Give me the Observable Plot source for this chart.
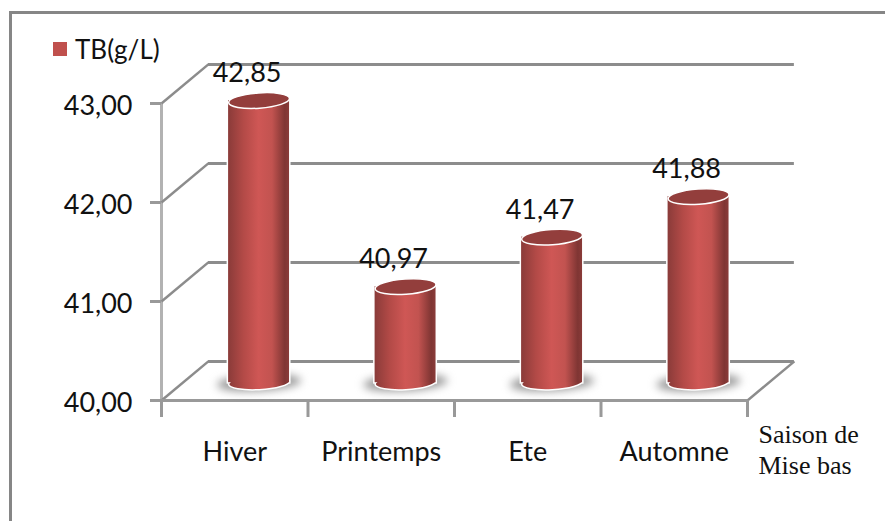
<!DOCTYPE html>
<html><head><meta charset="utf-8">
<style>
html,body{margin:0;padding:0;background:#fff;width:885px;height:521px;overflow:hidden}
#wrap{position:relative;width:885px;height:521px}
#border{position:absolute;left:9px;top:11px;right:0;bottom:0;border-left:3px solid #868686;border-top:3px solid #868686;box-sizing:border-box;pointer-events:none}
#legend{position:absolute;left:53px;top:35px;display:flex;align-items:center;font:26px Lato,sans-serif;color:#111;line-height:28px}
#legend i{display:block;width:14px;height:14px;background:#c0504d;margin-right:8px}
svg{position:absolute;left:0;top:0}
.shadow{filter:blur(4px)}
</style>
<script src="https://cdn.jsdelivr.net/npm/d3@7"></script>
<script src="https://cdn.jsdelivr.net/npm/@observablehq/plot@0.6"></script>
</head><body>
<div id="wrap"><div id="border"></div><div id="legend"><i></i><span>TB(g/L)</span></div></div>
<script>
const categories = ["Hiver","Printemps","Ete","Automne"];
const values = [42.85,40.97,41.47,41.88];
const yTicks = [40,41,42,43];
const xBoundaries = [0,1,2,3,4];
const axisTitle = "Saison de\nMise bas";
const legendLabel = "TB(g/L)";

const fr = v => v.toFixed(2).replace(".",",");
const depthX = 0.32, depthY = 0.395;        // 3D depth of the chart box, in scale units
const midX = 0.166, midY = 0.18, halfBar = 0.208;
const rows = categories.map((c,i)=>({c,v:values[i],pos:i+0.5+midX}));

function ellipse(ratio, tiltDeg){
  const t = tiltDeg*Math.PI/180, k = 0.5523;
  return {draw(ctx,size){
    const a = Math.sqrt(size/Math.PI), b = a*ratio;
    const p = (x,y)=>[x*Math.cos(t)-y*Math.sin(t), x*Math.sin(t)+y*Math.cos(t)];
    ctx.moveTo(...p(a,0));
    ctx.bezierCurveTo(...p(a,k*b),...p(k*a,b),...p(0,b));
    ctx.bezierCurveTo(...p(-k*a,b),...p(-a,k*b),...p(-a,0));
    ctx.bezierCurveTo(...p(-a,-k*b),...p(-k*a,-b),...p(0,-b));
    ctx.bezierCurveTo(...p(k*a,-b),...p(a,-k*b),...p(a,0));
    ctx.closePath();
  }};
}
const sans = "Lato, sans-serif";
const gridC = "#8c8c8c", wallC = "#b2b2b2";

const chart = Plot.plot({
  width:885, height:521,
  marginLeft:161, marginRight:138, marginTop:103, marginBottom:121,
  x:{domain:[0,4], axis:null},
  y:{domain:[40,43], axis:null},
  style:{background:"transparent",overflow:"visible"},
  marks:[
    Plot.ruleX([0],{y1:40,y2:43,stroke:wallC,strokeWidth:3}),
    Plot.ruleY(yTicks,{x1:depthX,x2:4+depthX,y:d=>d+depthY,stroke:gridC,strokeWidth:3}),
    Plot.link(yTicks,{x1:0,x2:depthX,y1:d=>d,y2:d=>d+depthY,stroke:gridC,strokeWidth:2.5}),
    Plot.link([40],{x1:4,x2:4+depthX,y1:d=>d,y2:d=>d+depthY,stroke:gridC,strokeWidth:2.5}),
    Plot.ruleY([40],{x1:0,x2:4,stroke:"#999",strokeWidth:3}),
    Plot.axisX({ticks:xBoundaries,tickSize:17,tickFormat:()=>"",stroke:"#999",strokeWidth:3,label:null}),
    Plot.axisX({ticks:categories.map((c,i)=>i+0.5),tickSize:0,tickPadding:41,tickFormat:d=>categories[d-0.5],
      fontSize:27,fontFamily:sans,fill:"#111",label:null}),
    Plot.axisY({ticks:yTicks,tickSize:11,tickFormat:()=>"",stroke:"#999",strokeWidth:3,label:null}),
    Plot.axisY({ticks:yTicks,tickSize:0,tickPadding:29,tickFormat:fr,
      fontSize:27,fontFamily:sans,fill:"#111",label:null,dy:3}),
    Plot.dot(rows,{x:"pos",y:()=>40+midY,r:42,symbol:ellipse(0.2,-3),fill:"#999",className:"shadow"}),
    Plot.rect(rows,{x1:d=>d.pos-halfBar,x2:d=>d.pos+halfBar,y1:40+midY,y2:d=>d.v+midY,fill:"none",stroke:"#fff",strokeWidth:3}),
    Plot.dot(rows,{x:"pos",y:()=>40+midY,r:30.5,symbol:ellipse(0.23,-3),fill:"url(#cyl)",stroke:"#fff",strokeWidth:1.5}),
    Plot.rect(rows,{x1:d=>d.pos-halfBar,x2:d=>d.pos+halfBar,y1:40+midY,y2:d=>d.v+midY,fill:"url(#cyl)"}),
    Plot.dot(rows,{x:"pos",y:d=>d.v+midY,r:30.5,symbol:ellipse(0.25,-4),fill:"#933e3c",stroke:"#fff",strokeWidth:1.5}),
    Plot.text(rows,{x:"pos",y:d=>d.v+midY,dx:-12,dy:-27,text:d=>fr(d.v),fontSize:27,fontFamily:sans,fill:"#111"}),
    Plot.text([axisTitle],{x:4,y:40,dx:11,dy:48,text:d=>d,textAnchor:"start",lineHeight:1.18,
      fontSize:26,fontFamily:"Liberation Serif, serif",fill:"#111"})
  ]
});
const ns="http://www.w3.org/2000/svg";
const defs=document.createElementNS(ns,"defs");
defs.innerHTML=`<linearGradient id="cyl" x1="0" x2="1" y1="0" y2="0">
<stop offset="0" stop-color="#8a3b39"/><stop offset="0.25" stop-color="#b34a47"/>
<stop offset="0.5" stop-color="#cf5755"/><stop offset="0.72" stop-color="#c25350"/>
<stop offset="0.93" stop-color="#7f3533"/><stop offset="1" stop-color="#8a3b39"/></linearGradient>`;
chart.prepend(defs);
document.getElementById("wrap").prepend(chart);
document.querySelector("#legend span").textContent = legendLabel;
</script>
</body></html>
